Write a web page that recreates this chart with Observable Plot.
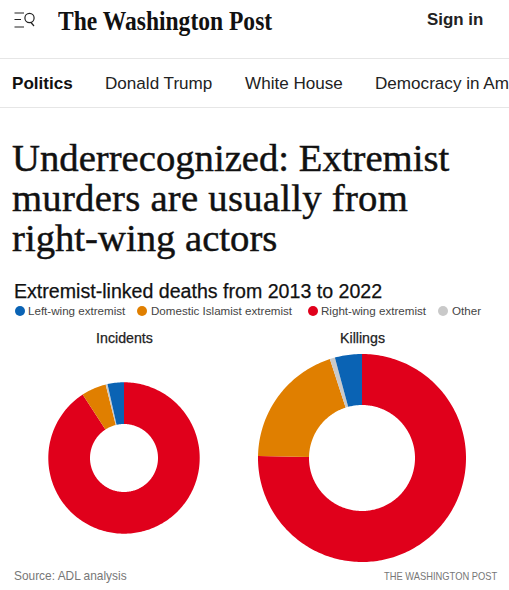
<!DOCTYPE html>
<html>
<head>
<meta charset="utf-8">
<script src="https://cdn.jsdelivr.net/npm/d3@7"></script>
<script src="https://cdn.jsdelivr.net/npm/@observablehq/plot@0.6"></script>
<style>
html,body{margin:0;padding:0;background:#fff;width:509px;height:590px;overflow:hidden;font-family:"Liberation Sans",sans-serif;color:#111}
.a{position:absolute;white-space:nowrap;line-height:1}
.rule{position:absolute;left:0;width:509px;height:1px;background:#e6e6e6}
#chart{position:absolute;left:0;top:325px}
.sw{position:absolute;top:306px;width:10px;height:10px;border-radius:50%}
.lg{position:absolute;top:305px;font-size:11.6px;color:#444;white-space:nowrap;line-height:1}
</style>
</head>
<body>
<svg class="a" style="left:14px;top:11px" width="22" height="18" viewBox="0 0 22 18" fill="none" stroke="#222" stroke-width="1.2">
  <path d="M0.5 2H10M0.5 8.5H7M0.5 16H10"/><circle cx="15.5" cy="7" r="4.6"/><path d="M17 11.5L20 15"/>
</svg>
<div class="a" style="left:58px;top:8px;font-family:'Liberation Serif',serif;font-weight:700;font-size:27px;transform:scaleX(.872);transform-origin:left center">The Washington Post</div>
<div class="a" style="left:427px;top:12px;font-weight:700;font-size:16.9px;color:#222">Sign in</div>
<div class="rule" style="top:58px"></div>
<div class="a" style="left:12px;top:75px;font-weight:700;font-size:17.1px">Politics</div>
<div class="a" style="left:105px;top:75px;font-size:17.1px;color:#222">Donald Trump</div>
<div class="a" style="left:245px;top:75px;font-size:17.1px;color:#222">White House</div>
<div class="a" style="left:375px;top:75px;font-size:17.1px;color:#222">Democracy in Am</div>
<div class="rule" style="top:107px"></div>
<div class="a" style="left:12px;top:138px;font-family:'Liberation Serif',serif;font-size:38.7px;color:#111;line-height:40px;-webkit-text-stroke:.45px #111">Underrecognized: Extremist<br><span style="letter-spacing:.25px">murders are usually from</span><br>right-wing actors</div>
<div class="a" style="left:14px;top:282px;font-size:19.6px;font-weight:400;color:#111;-webkit-text-stroke:.25px #111">Extremist-linked deaths from 2013 to 2022</div>
<div id="legend"></div>
<div id="chart"></div>
<div class="a" style="left:14px;top:571px;font-size:11.9px;color:#777">Source: ADL analysis</div>
<div class="a" style="right:12px;top:571px;font-size:11px;color:#777;transform:scaleX(.85);transform-origin:right center">THE WASHINGTON POST</div>
<script>
const categories = ["Right-wing extremist", "Domestic Islamist extremist", "Other", "Left-wing extremist"];
const colors = ["#e0001b", "#e07f00", "#c9c9c9", "#0a63b4"];
const panels = ["Incidents", "Killings"];
const incidents = [90.8, 5.3, 0.4, 3.5];
const killings = [75.3, 19.7, 0.8, 4.2];
const legendOrder = ["Left-wing extremist", "Domestic Islamist extremist", "Right-wing extremist", "Other"];
const legendSwatchX = [15, 137, 308, 438];
const legendTextX = [28, 151, 321, 452];

// Layout of the two rings, in the plot's own units
const W = 509, H = 243;
const rings = {
  Incidents: {cx: 124, cy: 133, r0: 34, r1: 75.7, values: incidents},
  Killings: {cx: 362, cy: 133, r0: 53, r1: 104, values: killings}
};

function slices(panel) {
  const {cx, cy, r0, r1, values} = rings[panel];
  const total = d3.sum(values);
  const rows = [];
  let acc = 0;
  values.forEach((v, i) => {
    const a0 = acc / total * 2 * Math.PI;
    acc += v;
    const a1 = acc / total * 2 * Math.PI;
    const n = Math.max(2, Math.ceil((a1 - a0) / 0.02));
    for (let k = 0; k <= n; ++k) {
      const a = a0 + (a1 - a0) * k / n;
      rows.push({
        key: panel + i,
        category: categories[i],
        x1: cx + r0 * Math.sin(a), y1: cy - r0 * Math.cos(a),
        x2: cx + r1 * Math.sin(a), y2: cy - r1 * Math.cos(a)
      });
    }
  });
  return rows;
}

const labels = panels.map(p => ({panel: p, x: rings[p].cx, y: 12.5}));

const plot = Plot.plot({
  width: W, height: H,
  margin: 0,
  x: {domain: [0, W], range: [0, W], axis: null},
  y: {domain: [0, H], range: [0, H], axis: null},
  color: {domain: categories, range: colors},
  style: {background: "transparent", fontFamily: "'Liberation Sans',sans-serif"},
  marks: [
    ...panels.map(p => Plot.area(slices(p), {
      x1: "x1", y1: "y1", x2: "x2", y2: "y2", z: "key", fill: "category"
    })),
    Plot.text(labels, {x: "x", y: "y", text: "panel", fontSize: 14.2, fill: "#222", stroke: "#222", strokeWidth: 0.25})
  ]
});
document.getElementById("chart").append(plot);

const lg = document.getElementById("legend");
legendOrder.forEach((c, i) => {
  const s = document.createElement("div");
  s.className = "sw";
  s.style.left = legendSwatchX[i] + "px";
  s.style.background = colors[categories.indexOf(c)];
  lg.append(s);
  const t = document.createElement("div");
  t.className = "lg";
  t.style.left = legendTextX[i] + "px";
  t.textContent = c;
  lg.append(t);
});
</script>
</body>
</html>
